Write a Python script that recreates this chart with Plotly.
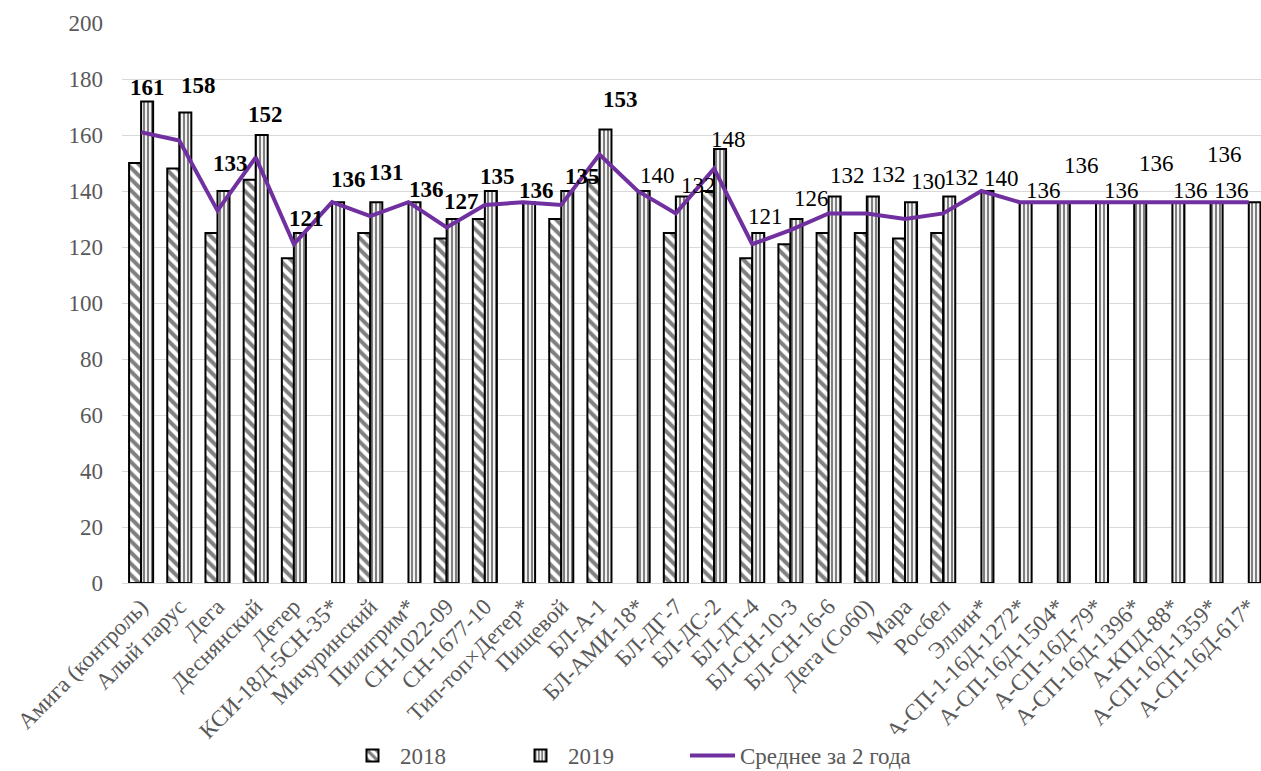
import plotly.graph_objects as go

categories = [
    "Амига (контроль)", "Алый парус", "Дега", "Деснянский", "Детер",
    "КСИ-18Д-5СН-35*", "Мичуринский", "Пилигрим*", "СН-1022-09", "СН-1677-10",
    "Тип-топ×Детер*", "Пищевой", "БЛ-А-1", "БЛ-АМИ-18*", "БЛ-ДГ-7",
    "БЛ-ДС-2", "БЛ-ДТ-4", "БЛ-СН-10-3", "БЛ-СН-16-6", "Дега (Со60)",
    "Мара", "Росбел", "Эллин*", "А-СП-1-16Д-1272*", "А-СП-16Д-1504*",
    "А-СП-16Д-79*", "А-СП-16Д-1396*", "А-КПД-88*", "А-СП-16Д-1359*", "А-СП-16Д-617*",
]
values_2018 = [150, 148, 125, 144, 116, None, 125, None, 123, 130,
               None, 130, 144, None, 125, 140, 116, 121, 125, 125,
               123, 125, None, None, None, None, None, None, None, None]
values_2019 = [172, 168, 140, 160, 125, 136, 136, 136, 130, 140,
               136, 140, 162, 140, 138, 155, 125, 130, 138, 138,
               136, 138, 140, 136, 136, 136, 136, 136, 136, 136]
values_avg = [161, 158, 133, 152, 121, 136, 131, 136, 127, 135,
              136, 135, 153, 140, 132, 148, 121, 126, 132, 132,
              130, 132, 140, 136, 136, 136, 136, 136, 136, 136]
y_ticks = [0, 20, 40, 60, 80, 100, 120, 140, 160, 180, 200]

# label placement (pixel offsets from the line point) and styling
label_dx = [6, 19, 13, 10, 13, 16, 16, 18, 15, 13, 13, 21, 21, 20, 23,
            14, 13, 21, 19, 22, 23, 18, 20, 24, 24, 26, 22, 18, 14, -17]
label_dy = [45, 55, 47, 43, 26, 23, 44, 13, 26, 29, 12, 29, 55, 16, 28,
            29, 28, 32, 38, 39, 38, 36, 13, 12, 37, 12, 39, 12, 48, 12]
n_bold = 13

FONT = "Liberation Serif"
GRAY = "#595959"
x_idx = list(range(len(categories)))

fig = go.Figure()
fig.add_trace(go.Bar(
    x=x_idx, y=values_2018, name="2018", legend="legend",
    marker=dict(color="white", line=dict(color="black", width=2),
                pattern=dict(shape="\\", fgcolor="black", bgcolor="white",
                             size=8, solidity=0.5, fillmode="overlay")),
))
fig.add_trace(go.Bar(
    x=x_idx, y=values_2019, name="2019", legend="legend",
    marker=dict(color="white", line=dict(color="black", width=2),
                pattern=dict(shape="|", fgcolor="black", bgcolor="white",
                             size=4, solidity=0.55, fillmode="overlay")),
))
fig.add_trace(go.Scatter(
    x=x_idx, y=values_avg, name="Среднее за 2 года", mode="lines", legend="legend2",
    line=dict(color="#7030A0", width=4),
))

for i, v in enumerate(values_avg):
    txt = f"<b>{v}</b>" if i < n_bold else f"{v}"
    fig.add_annotation(x=i, y=v, text=txt, showarrow=False,
                       xshift=label_dx[i], yshift=label_dy[i],
                       font=dict(family=FONT, size=23, color="black"))

legend_common = dict(orientation="h", xref="container", y=-0.308, yref="paper",
                     yanchor="middle", xanchor="left", itemwidth=45,
                     font=dict(family=FONT, size=23, color=GRAY), traceorder="normal")

fig.update_layout(
    width=1261, height=771,
    margin=dict(l=122, r=0, t=23, b=188, autoexpand=False),
    paper_bgcolor="white", plot_bgcolor="white",
    barmode="group", bargap=0.37, bargroupgap=0,
    font=dict(family=FONT, color=GRAY, size=22),
    legend=dict(x=345 / 1261, entrywidth=108, entrywidthmode="pixels", **legend_common),
    legend2=dict(x=685 / 1261, **legend_common),
    showlegend=True,
)
fig.update_xaxes(
    range=[-0.5, 29.32], tickmode="array", tickvals=x_idx, ticktext=categories,
    tickangle=-45, tickfont=dict(family=FONT, size=23, color=GRAY),
    showgrid=False, showline=True, linecolor="#d9d9d9", linewidth=1,
    ticks="", fixedrange=True, automargin=False,
)
fig.update_yaxes(
    range=[0, 200], tickvals=y_ticks, tickfont=dict(family=FONT, size=23, color=GRAY),
    showgrid=True, gridcolor="#d9d9d9", gridwidth=1, zeroline=False,
    showline=False, ticks="", ticklen=0, ticklabelstandoff=18,
    fixedrange=True, automargin=False,
)

fig.write_html("out.html")
